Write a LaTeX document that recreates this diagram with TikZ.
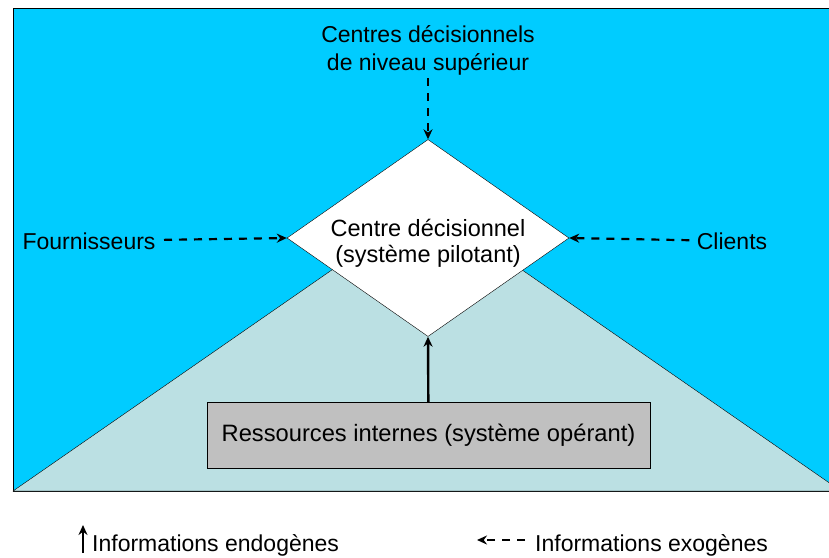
\documentclass[tikz,border=0pt]{standalone}
\usepackage{fontspec}
\setmainfont{Liberation Sans}
\usetikzlibrary{shapes.geometric,arrows.meta}
\definecolor{fond}{HTML}{00CCFF}
\definecolor{pyramide}{HTML}{BBE0E3}
\definecolor{operant}{HTML}{C0C0C0}
\begin{document}
\begin{tikzpicture}[x=1pt,y=-1pt,
            every node/.style={font=\fontsize{23}{28}\selectfont},
            pilotant/.style={diamond,draw,fill=white,inner sep=0pt,
                minimum width=282pt,minimum height=197pt},
            ressource/.style={draw,fill=operant,minimum width=443pt,minimum height=66pt,
                font=\fontsize{23.7}{28}\selectfont},
            exogene/.style={line width=2.2pt,dash pattern=on 8pt off 7pt},
            endogene/.style={line width=2.4pt}]
            \useasboundingbox (0,0) rectangle (829,557);
            \begin{scope}
                \clip (0,0) rectangle (829,557);
                \draw[fill=fond] (13,8) rectangle (841,491);
                \draw[fill=pyramide] (13,491)--(427,204)--(841,491)--cycle;
            \end{scope}
            \path
            (428,50) node[align=center] (S) {Centres décisionnels\\de niveau supérieur}
            (428,238) node[pilotant] (C) {}
            ++(0,5) node[align=center,font=\fontsize{23.5}{26}\selectfont] (Ct)
                {Centre décisionnel\\(système pilotant)}
            (89,241) node (F) {Fournisseurs}
            (732,241) node (K) {Clients}
            (428.5,435) node[ressource] (R) {Ressources internes (système opérant)}
            (83,553) coordinate (a1) % <<< légende
            ++(0,-28) coordinate (a2)
            (92,545) node[right,inner sep=0pt] (L1) {Informations endogènes}
            (525,540) coordinate (b1)
            ++(-48,0) coordinate (b2)
            (535,545) node[right,inner sep=0pt] (L2) {Informations exogènes};
            \begin{scope}[-{Stealth[length=10pt,width=9pt]}]
                \draw[exogene] (S)--(C.north);
                \draw[exogene,shorten <=5pt] (F)--(C.west);
                \draw[exogene,shorten <=4pt] (K)--(C.east);
                \draw[endogene] (R)--(C.south);
                \draw[endogene,line width=1.8pt] (a1)--(a2);
                \draw[exogene] (b1)--(b2);
            \end{scope}
        \end{tikzpicture}
\end{document}
